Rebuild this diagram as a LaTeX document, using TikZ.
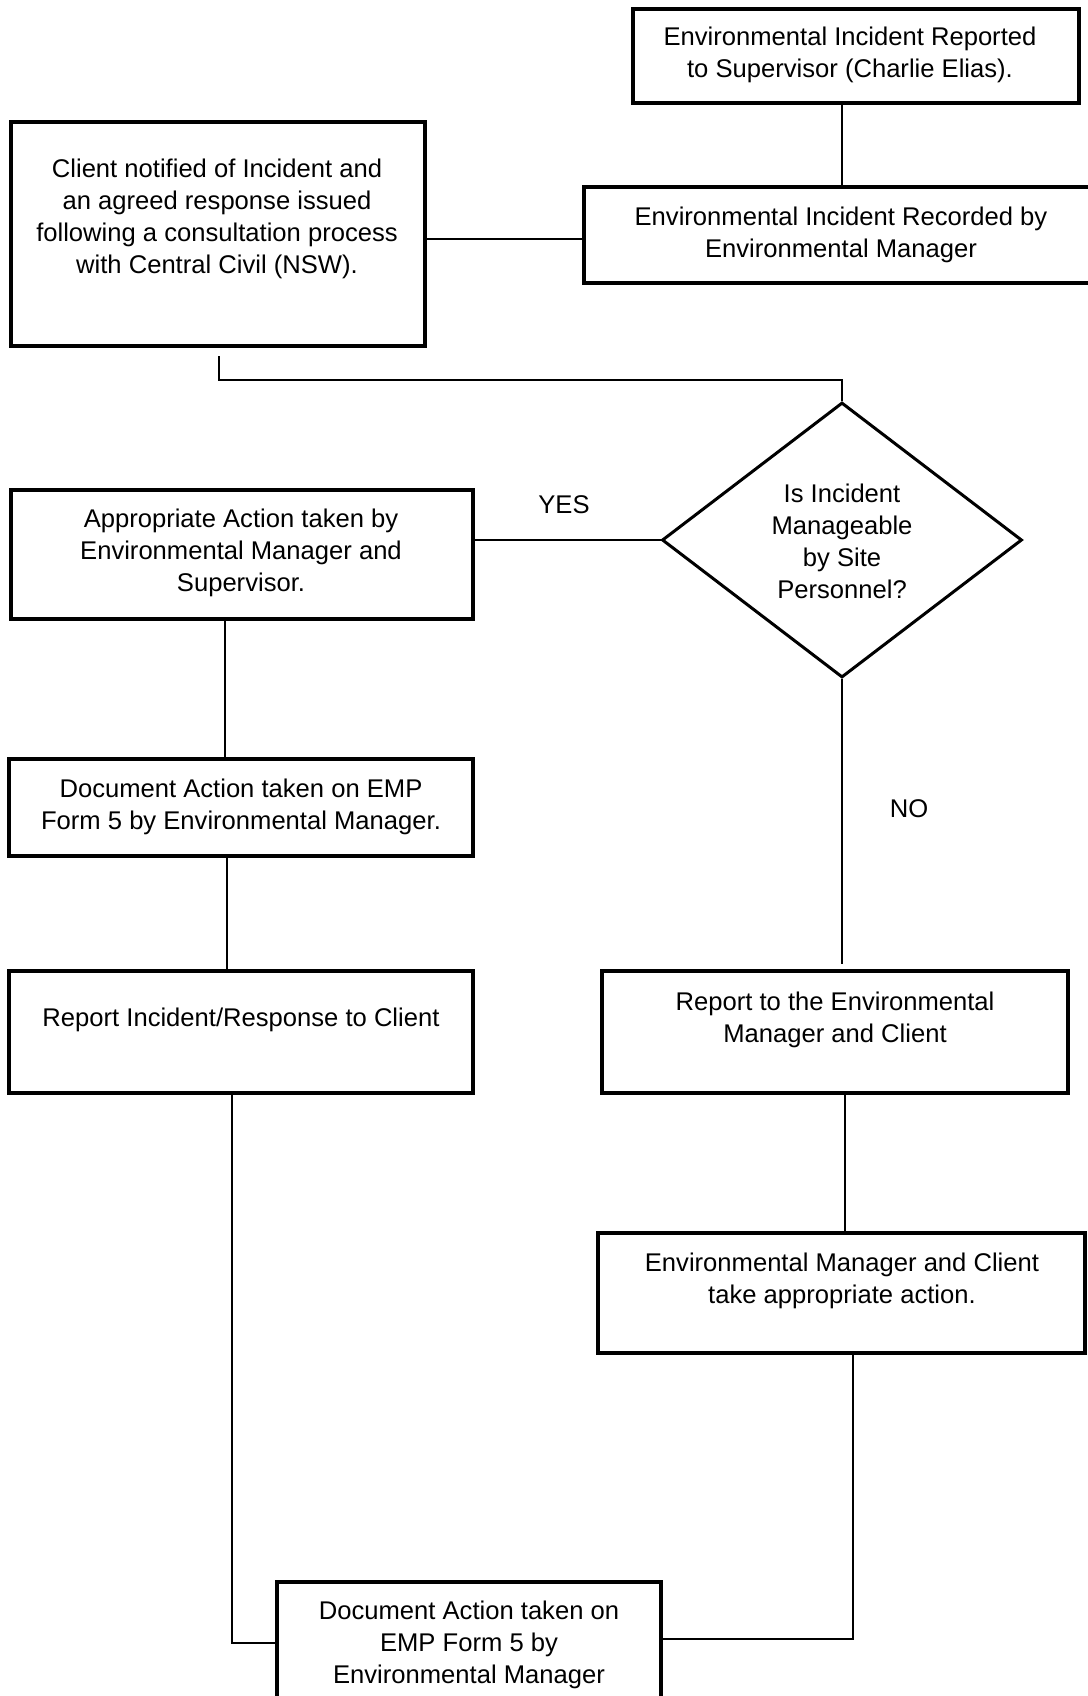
\documentclass[tikz,border=0pt]{standalone}
\usepackage{fontspec}
\setmainfont{Liberation Sans}
\usetikzlibrary{shapes.geometric}
\begin{document}
\begin{tikzpicture}[x=0.5pt,y=-0.5pt,
  box/.style={draw, line width=2pt, inner sep=0pt},
  txt/.style={align=center, inner sep=0pt, font=\fontsize{12.8}{16}\selectfont},
  conn/.style={line width=1pt},
  dia/.style={draw, diamond, line width=1.5pt, inner sep=0pt, minimum width=180pt, minimum height=137.5pt}]
\useasboundingbox (0,0) rectangle (1087,1696);

% boxes
\node[box, minimum width=223pt, minimum height=47pt] (B1) at (856,56) {};
\node[box, minimum width=258pt, minimum height=48pt] (B2) at (842,235) {};
\node[box, minimum width=207pt, minimum height=112pt] (CL) at (218,234) {};
\node[dia] (D) at (842,540) {};
\node[box, minimum width=231pt, minimum height=64.5pt] (AP) at (242,554.5) {};
\node[box, minimum width=232pt, minimum height=48.5pt] (DC1) at (241,807.5) {};
\node[box, minimum width=232pt, minimum height=61pt] (RI) at (241,1032) {};
\node[box, minimum width=233pt, minimum height=61pt] (RE) at (835,1032) {};
\node[box, minimum width=243.5pt, minimum height=60pt] (EC) at (841.5,1293) {};
\node[box, minimum width=192pt, minimum height=59pt] (DC2) at (469,1641) {};

% texts
\node[txt] (tB1) at (850,54.5) {Environmental Incident Reported\\to Supervisor (Charlie Elias).};
\node[txt] (tB2) at (841,234.5) {Environmental Incident Recorded by\\Environmental Manager};
\node[txt] (tCL) at (217,219) {Client notified of Incident and\\an agreed response issued\\following a consultation process\\with Central Civil (NSW).};
\node[txt] (tD) at (842,541) {Is Incident\\Manageable\\by Site\\Personnel?};
\node[txt] (tAP) at (241,552.5) {Appropriate Action taken by\\Environmental Manager and\\Supervisor.};
\node[txt] (tDC1) at (241,806.5) {Document Action taken on EMP\\Form 5 by Environmental Manager.};
\node[txt] (tRI) at (241,1019.5) {Report Incident/Response to Client};
\node[txt] (tRE) at (835,1019.5) {Report to the Environmental\\Manager and Client};
\node[txt] (tEC) at (842,1280.5) {Environmental Manager and Client\\take appropriate action.};
\node[txt] (tDC2) at (469,1645) {Document Action taken on\\EMP Form 5 by\\Environmental Manager};
\node[txt] (yes) at (564,505) {YES};
\node[txt] (no) at (909,809) {NO};

% connectors
\draw[conn] (B1.south -| D.north) -- (B2.north -| D.north);
\draw[conn] ([yshift=-2.5pt]CL.east) -- ([yshift=-2.5pt]CL.east -| B2.west);
\coordinate (c1) at ([xshift=0.65pt,yshift=-4pt]CL.south);
\draw[conn] (c1) -- ++(0,23.7) -| (D.north);
\draw[conn] (D.west) -- (D.west -| AP.east);
\draw[conn] ([xshift=-8.5pt]AP.south) -- ([xshift=-8.5pt]AP.south |- DC1.north);
\draw[conn] ([xshift=-7pt]DC1.south) -- ([xshift=-7pt]DC1.south |- RI.north);
\draw[conn] (D.south) -- ([yshift=2.5pt]D.south |- RE.north);
\draw[conn] ([xshift=4.85pt]RE.south) -- ([xshift=4.85pt]RE.south |- EC.north);
\draw[conn] ([xshift=5.75pt]EC.south) |- ([yshift=1pt]DC2.east);
\draw[conn] ([xshift=-4.65pt]RI.south) |- ([yshift=-1pt]DC2.west);
\end{tikzpicture}
\end{document}
